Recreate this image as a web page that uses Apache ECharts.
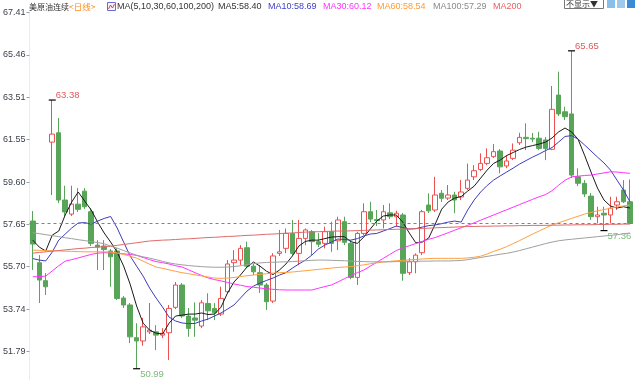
<!DOCTYPE html>
<html>
<head>
<meta charset="utf-8">
<script src="https://cdn.jsdelivr.net/npm/echarts/dist/echarts.min.js"></script>
<style>
html,body{margin:0;padding:0;background:#fff;}
#chart{width:640px;height:380px;}
</style>
</head>
<body>
<div id="chart"></div>
<script>
// ---- data ----
const opens  = [57.80,55.88,55.05,61.44,61.87,58.77,58.12,58.58,59.18,58.23,56.69,56.65,56.42,56.42,54.25,53.93,52.42,52.27,52.69,52.69,52.54,52.65,53.82,54.85,53.42,53.33,52.96,54.00,53.77,53.51,54.54,55.88,56.00,56.57,55.72,55.42,54.85,54.11,56.31,56.54,57.23,56.31,57.00,57.31,56.85,56.77,57.31,56.89,57.77,56.77,55.20,57.23,58.23,57.87,57.85,58.18,58.00,58.08,55.42,55.92,56.34,58.54,58.31,59.08,58.86,59.00,58.91,59.31,59.84,60.18,60.46,60.77,61.03,60.34,60.69,61.41,61.66,61.62,61.62,61.54,61.11,63.61,62.84,62.74,59.84,59.54,58.95,58.00,58.16,58.08,58.54,59.23,58.69];
const closes = [56.74,55.08,54.77,61.81,58.77,58.22,58.58,58.34,58.46,56.77,56.60,56.49,56.15,54.23,53.93,52.46,52.27,52.92,52.77,52.54,52.63,53.77,54.85,53.42,52.85,53.23,54.03,53.66,53.57,54.23,55.82,56.00,56.54,55.72,55.46,54.85,54.08,56.19,56.38,57.23,56.31,57.00,57.39,56.85,56.73,57.31,56.77,57.85,56.82,55.20,57.23,58.23,57.89,57.82,58.23,58.00,58.16,55.39,55.92,56.23,58.23,58.27,59.00,58.85,59.00,58.77,59.14,59.69,60.12,60.46,60.72,61.00,60.30,60.57,61.07,61.66,61.60,61.58,61.15,61.15,62.95,62.74,62.61,59.92,59.54,59.05,58.00,58.08,58.08,58.39,58.69,58.69,57.69];
const lows   = [55.54,54.02,54.39,59.00,58.63,58.03,58.03,58.22,58.36,56.65,55.54,55.54,54.77,54.16,53.79,52.17,50.99,52.05,52.59,51.85,52.40,51.39,53.74,53.33,52.46,52.46,52.86,53.23,53.23,53.42,54.48,55.46,55.77,55.63,55.31,54.48,53.70,54.02,56.19,56.32,56.23,55.77,56.69,56.23,56.60,56.54,56.38,56.46,56.69,55.12,54.85,57.15,57.75,57.57,57.46,57.89,57.54,55.05,55.31,55.39,56.23,58.17,58.22,58.68,58.77,58.16,58.77,59.23,59.69,60.11,60.38,60.71,60.00,60.24,60.61,61.31,61.07,61.44,61.07,60.61,61.07,62.64,62.46,59.78,59.41,58.91,57.85,57.69,57.36,57.69,58.31,58.63,57.66];
const highs  = [58.26,56.23,55.40,63.38,62.55,59.43,59.43,59.32,59.32,58.40,56.92,56.92,56.51,56.55,54.34,54.02,53.09,53.33,54.02,53.00,52.86,53.93,54.99,54.94,53.79,54.05,54.16,54.47,54.02,54.77,56.00,56.46,56.69,56.85,55.82,55.77,54.94,56.32,57.39,57.46,57.85,57.85,57.46,57.39,57.25,57.54,57.77,58.00,58.00,56.92,57.31,58.62,58.69,58.31,58.54,58.62,58.28,58.17,56.09,56.31,58.31,59.08,59.84,59.23,59.46,59.15,59.69,60.45,60.38,60.92,61.15,61.35,61.12,60.84,61.38,61.87,62.31,61.86,61.92,61.68,64.03,64.69,63.07,65.65,60.23,59.69,59.09,58.46,58.46,58.92,58.92,59.69,59.72];

const ma5   = [56.92,56.60,56.42,57.15,57.34,58.08,58.68,59.14,58.72,58.31,57.75,57.25,56.83,56.37,55.72,54.89,53.88,53.09,52.77,52.63,52.59,53.09,53.42,53.46,53.51,53.51,53.56,53.49,53.51,53.83,54.48,54.99,55.31,55.68,55.91,55.72,55.49,55.33,55.54,55.82,56.19,56.65,56.86,56.92,56.92,56.99,57.06,57.08,57.08,56.85,56.77,57.06,57.43,57.80,58.03,58.08,58.08,57.75,57.25,56.80,56.83,57.02,57.66,58.35,58.68,58.86,58.93,59.18,59.41,59.78,60.15,60.46,60.61,60.82,60.96,61.10,61.21,61.28,61.35,61.44,61.63,61.91,62.09,61.91,61.58,60.84,60.06,59.32,58.77,58.49,58.40,58.46,58.40];
const ma10  = [56.07,56.00,55.96,56.37,56.92,57.20,57.48,57.71,57.73,57.66,57.80,57.92,58.01,57.48,56.83,56.19,55.72,55.26,54.71,54.25,53.83,53.37,53.19,53.10,53.07,53.08,53.19,53.28,53.42,53.56,53.74,53.93,54.25,54.57,54.80,54.94,55.06,55.17,55.31,55.42,55.63,55.82,56.00,56.23,56.51,56.69,56.83,56.97,56.95,56.92,56.99,57.11,57.20,57.23,57.34,57.45,57.57,57.50,57.43,57.45,57.52,57.59,57.62,57.68,57.75,57.80,57.75,58.31,58.77,59.14,59.44,59.69,59.88,60.06,60.24,60.43,60.59,60.75,60.89,61.05,61.19,61.44,61.70,61.74,61.58,61.31,61.03,60.75,60.48,60.15,59.69,59.23,58.69];
const ma30  = [55.23,55.24,55.26,55.50,55.74,55.95,56.02,56.10,56.18,56.26,56.32,56.34,56.33,56.31,56.29,56.26,56.22,56.12,56.02,55.93,55.88,55.82,55.74,55.68,55.55,55.42,55.29,55.18,55.10,55.04,54.97,54.90,54.84,54.78,54.75,54.71,54.68,54.65,54.63,54.62,54.62,54.62,54.62,54.62,54.70,54.78,54.85,54.99,55.14,55.28,55.42,55.54,55.72,55.90,56.08,56.26,56.44,56.56,56.66,56.76,56.86,56.96,57.04,57.15,57.26,57.38,57.49,57.60,57.72,57.84,57.96,58.08,58.20,58.32,58.44,58.56,58.68,58.80,58.92,59.02,59.20,59.45,59.68,59.84,59.87,59.90,59.92,59.97,60.02,60.07,60.06,60.03,60.00];
const ma60  = [56.46,56.45,56.44,56.43,56.42,56.41,56.40,56.39,56.38,56.38,56.38,56.38,56.37,56.33,56.26,56.18,56.09,55.95,55.81,55.68,55.62,55.55,55.48,55.42,55.37,55.32,55.27,55.22,55.17,55.16,55.17,55.20,55.24,55.28,55.31,55.34,55.37,55.40,55.42,55.43,55.45,55.48,55.51,55.54,55.57,55.60,55.63,55.66,55.68,55.70,55.74,55.78,55.83,55.87,55.91,55.94,55.97,55.99,56.01,56.03,56.05,56.07,56.08,56.08,56.08,56.08,56.08,56.10,56.13,56.18,56.28,56.40,56.50,56.62,56.76,56.90,57.05,57.20,57.34,57.48,57.62,57.72,57.82,57.92,58.02,58.12,58.20,58.27,58.33,58.39,58.45,58.50,58.54];
const ma100 = [57.26,57.22,57.17,57.13,57.08,57.03,56.99,56.94,56.90,56.85,56.81,56.75,56.65,56.55,56.44,56.33,56.22,56.15,56.09,56.02,55.94,55.87,55.82,55.78,55.75,55.72,55.70,55.68,55.67,55.67,55.68,55.70,55.74,55.79,55.84,55.87,55.89,55.90,55.91,55.92,55.93,55.95,55.97,55.99,56.00,56.00,55.99,55.98,55.97,55.95,55.94,55.93,55.92,55.92,55.92,55.92,55.93,55.93,55.94,55.94,55.95,55.95,55.96,55.96,55.96,55.97,55.98,56.02,56.07,56.12,56.17,56.22,56.27,56.31,56.37,56.44,56.52,56.60,56.68,56.76,56.83,56.89,56.93,56.96,56.99,57.02,57.05,57.08,57.11,57.14,57.17,57.21,57.25];
const ma200 = [56.32,56.35,56.38,56.41,56.44,56.47,56.50,56.53,56.55,56.58,56.60,56.62,56.64,56.68,56.72,56.76,56.80,56.84,56.88,56.90,56.92,56.93,56.95,56.97,56.98,57.00,57.02,57.04,57.05,57.07,57.09,57.10,57.12,57.14,57.15,57.17,57.19,57.20,57.22,57.24,57.25,57.27,57.29,57.30,57.31,57.32,57.33,57.34,57.34,57.35,57.36,57.37,57.38,57.39,57.40,57.41,57.42,57.43,57.44,57.45,57.46,57.47,57.49,57.50,57.51,57.52,57.54,57.55,57.55,57.56,57.56,57.57,57.57,57.58,57.58,57.59,57.59,57.60,57.60,57.60,57.61,57.61,57.62,57.62,57.63,57.63,57.63,57.64,57.64,57.65,57.65,57.66,57.66];

const yTicks = [51.79, 53.74, 55.70, 57.65, 59.60, 61.55, 63.51, 65.46, 67.41];
const lastPrice = 57.69;
// labelled extremes: [index, value, kind]
const extremes = [[3, 63.38, 'high'], [83, 65.65, 'high'], [16, 50.99, 'low'], [88, 57.36, 'low']];

const maNames  = ['MA5', 'MA10', 'MA30', 'MA60', 'MA100', 'MA200'];
const maValues = [ma5, ma10, ma30, ma60, ma100, ma200];
const maColors = ['#1a1a1a', '#3d3db8', '#ff33ff', '#ffa040', '#a0a0a0', '#e06a6a'];

// ---- build ----
const days = opens.map((_, i) => String(i + 1));
const kData = opens.map((o, i) => [o, closes[i], lows[i], highs[i]]);

const latin = '"Liberation Sans", Arial, sans-serif';
const cjk = '"Noto Sans CJK SC", sans-serif';

function txt(x, text, color, font) {
  return { type: 'text', x: x, y: 7, silent: true,
    style: { text: text, fill: color, font: font, verticalAlign: 'middle', align: 'left' } };
}

const chart = echarts.init(document.getElementById('chart'), null, { renderer: 'canvas' });
const option = {
  animation: false,
  backgroundColor: '#ffffff',
  grid: { left: 27.7, right: 6.8, top: 12.66, bottom: 0, containLabel: false },
  xAxis: {
    type: 'category', data: days, boundaryGap: true,
    axisLine: { show: false }, axisTick: { show: false }, axisLabel: { show: false }, splitLine: { show: false }
  },
  yAxis: {
    type: 'value', min: 50.47, max: 67.41, scale: true,
    axisLine: { show: true, lineStyle: { color: '#ececec', width: 1 } },
    axisTick: { show: true, length: 3, lineStyle: { color: '#9aa0a8' }, customValues: yTicks },
    axisLabel: { show: true, margin: 4, color: '#3a3f48', fontSize: 9, fontFamily: latin,
      customValues: yTicks, formatter: v => v.toFixed(2) },
    splitLine: { show: false }
  },
  series: [
    {
      name: 'K', type: 'candlestick', data: kData, barWidth: 5, z: 2,
      itemStyle: { color: '#ffffff', color0: '#58a55a', borderColor: '#ee5050', borderColor0: '#58a55a', borderWidth: 1 },
      markLine: {
        silent: true, symbol: ['none', 'none'], label: { show: false },
        lineStyle: { color: '#3d8ef0', type: [3, 3], width: 1 },
        data: [{ yAxis: lastPrice }]
      },
      markPoint: {
        silent: true, symbol: 'rect', symbolSize: [7, 1.2],
        itemStyle: { color: '#000' },
        data: extremes.map(e => ({
          coord: [e[0], e[1]], value: e[1],
          label: {
            show: true, formatter: e[1].toFixed(2), position: e[2] === 'high' ? [7, -9] : [7, 1],
            color: e[2] === 'high' ? '#e05a5a' : '#7cba7c', fontSize: 9.5, fontFamily: latin
          }
        }))
      }
    }
  ].concat(maNames.map((n, k) => ({
    name: n, type: 'line', data: maValues[k], showSymbol: false, symbol: 'none', smooth: false, z: 3,
    lineStyle: { color: maColors[k], width: 1 }, itemStyle: { color: maColors[k] }
  }))),
  graphic: [
    txt(29, '美原油连续', '#333', '8px ' + cjk),
    txt(69, '<日线>', '#ff8c1a', '8.5px ' + cjk),
    { type: 'rect', shape: { x: 107.5, y: 2.5, width: 8, height: 8 }, silent: true,
      style: { fill: '#f4f4ff', stroke: '#6a6ad0', lineWidth: 1 } },
    { type: 'polyline', shape: { points: [[108.5, 9], [110.5, 5], [112.5, 8], [114.5, 4]] }, silent: true,
      style: { stroke: '#e04040', fill: null, lineWidth: 1 } },
    txt(117, 'MA(5,10,30,60,100,200)', '#333', '9px ' + latin),
    txt(218, 'MA5:58.40', '#333', '9px ' + latin),
    txt(268, 'MA10:58.69', '#3d3dcc', '9px ' + latin),
    txt(323, 'MA30:60.12', '#ff33ff', '9px ' + latin),
    txt(377, 'MA60:58.54', '#ff9a33', '9px ' + latin),
    txt(433, 'MA100:57.29', '#8a8a8a', '9px ' + latin),
    txt(493, 'MA200', '#e86060', '9px ' + latin),
    { type: 'rect', shape: { x: 564.5, y: -1.5, width: 39, height: 10 }, silent: true,
      style: { fill: '#fff', stroke: '#777', lineWidth: 1 } },
    { type: 'text', x: 566, y: 3.5, silent: true,
      style: { text: '不显示▼', fill: '#333', font: '8px ' + cjk, verticalAlign: 'middle', align: 'left' } },
    { type: 'rect', shape: { x: 607, y: 0, width: 8, height: 8 }, silent: true, style: { fill: '#86c0ea' } },
    { type: 'rect', shape: { x: 617, y: 0, width: 8, height: 8 }, silent: true, style: { fill: '#9cc9ec' } },
    { type: 'rect', shape: { x: 627, y: 0, width: 8, height: 8 }, silent: true, style: { fill: '#3a8ad6' } }
  ]
};
chart.setOption(option);
</script>
</body>
</html>
